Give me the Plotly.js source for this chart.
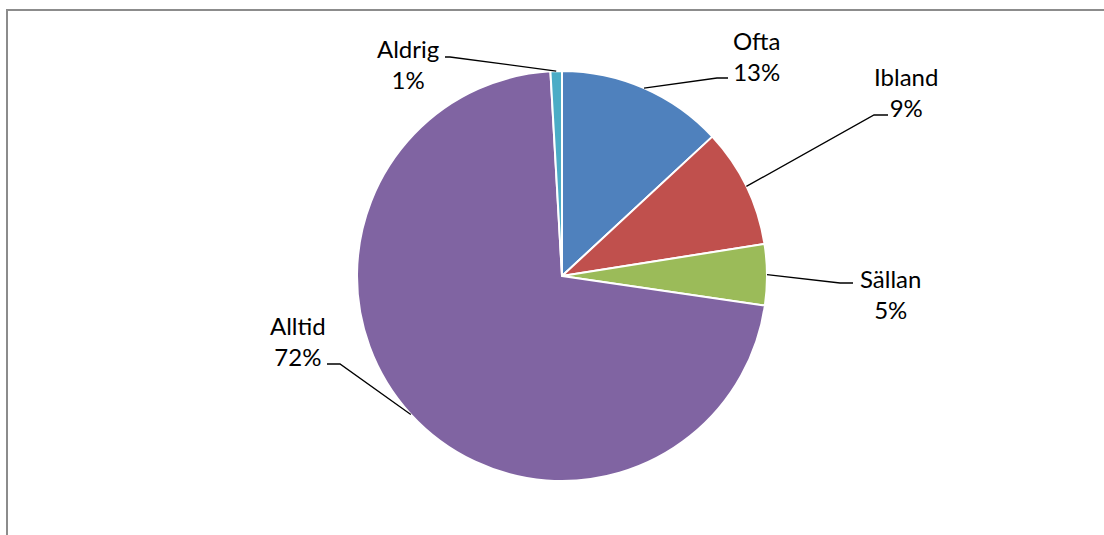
<!DOCTYPE html>
<html>
<head>
<meta charset="utf-8">
<script src="https://cdn.plot.ly/plotly-3.0.1.min.js"></script>
<style>
  html, body { margin: 0; padding: 0; background: #fff; overflow: hidden; }
  #frame { position: absolute; left: 6px; top: 9px; width: 1200px; height: 600px;
           border-left: 2px solid #8c8c8c; border-top: 2px solid #8c8c8c; }
  #chart { position: absolute; left: 0; top: 0; width: 1104px; height: 535px; }
</style>
</head>
<body>
<div id="frame"></div>
<div id="chart"></div>
<script>
const labels = ['Ofta', 'Ibland', 'Sällan', 'Alltid', 'Aldrig'];
const values = [13.1, 9.4, 4.8, 71.8, 0.9];
const colors = ['#4F81BD', '#C0504D', '#9BBB59', '#8064A2', '#4BACC6'];

// where each label sits and where its leader line bends (pixels)
const labelPos = [[756, 56], [906, 92], [890, 294], [298, 341], [408, 64]];
const elbows = [[[717, 78], [728, 78]], [[874, 115], [888, 115]], [[840, 283], [853, 283]],
                [[340, 364], [327, 364]], [[450, 57], [445, 57]]];

const W = 1104, H = 535;
const cx = 562, cy = 276, r = 205;
const px = x => x / W;
const py = y => 1 - y / H;

const total = values.reduce((a, b) => a + b, 0);
const shapes = [];
const annotations = [];
let acc = 0;
values.forEach((v, i) => {
  const mid = (acc + v / 2) / total * 2 * Math.PI;
  acc += v;
  const ex = cx + r * Math.sin(mid), ey = cy - r * Math.cos(mid);
  const pts = [[ex, ey]].concat(elbows[i]);
  shapes.push({
    type: 'path', xref: 'paper', yref: 'paper',
    path: pts.map((p, k) => (k ? 'L' : 'M') + px(p[0]) + ',' + py(p[1])).join(' '),
    line: { color: '#000', width: 1.3 }
  });
  const pct = Math.round(v / total * 100);
  annotations.push({
    xref: 'paper', yref: 'paper', x: px(labelPos[i][0]), y: py(labelPos[i][1]),
    text: labels[i] + '<br>' + pct + '%', showarrow: false,
    xanchor: 'center', yanchor: 'middle', align: 'center',
    font: { family: 'Lato, sans-serif', size: 24, color: '#000' }
  });
});

Plotly.newPlot('chart', [{
  type: 'pie',
  labels: labels,
  values: values,
  sort: false,
  direction: 'clockwise',
  rotation: 0,
  textinfo: 'none',
  hoverinfo: 'none',
  marker: { colors: colors, line: { color: '#fff', width: 2 } },
  domain: { x: [px(cx - r), px(cx + r)], y: [py(cy + r), py(cy - r)] }
}], {
  width: W, height: H,
  margin: { l: 0, r: 0, t: 0, b: 0 },
  showlegend: false,
  paper_bgcolor: 'rgba(0,0,0,0)',
  shapes: shapes,
  annotations: annotations
}, { displayModeBar: false, staticPlot: true });
</script>
</body>
</html>
